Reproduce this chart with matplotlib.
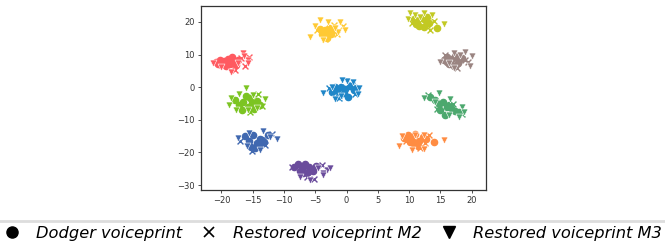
import matplotlib
matplotlib.use("Agg")
from matplotlib import pyplot as plt
from matplotlib.lines import Line2D

plt.rcParams["font.family"] = "DejaVu Sans"

# cluster colours
colors = ["#ff5a60", "#ffc933", "#c2c923", "#9a8481", "#1f86c8",
          "#7cc422", "#4ca86e", "#4068b0", "#ff8c42", "#6a4c9c"]

# Dodger voiceprint (circles), per cluster
dodger_x = [
    [-20.8, -20.2, -19.6, -19.0, -18.6, -18.0, -17.6, -19.3, -18.3, -20.5, -17.3],
    [-4.2, -3.6, -3.0, -2.5, -3.3, -2.8, -3.9, -2.3, -3.1, -3.5],
    [10.7, 11.3, 11.9, 12.6, 13.2, 11.6, 12.3, 12.9, 11.1, 14.4],
    [15.5, 16.1, 16.8, 17.4, 18.0, 16.4, 17.1, 17.8, 16.0, 18.5],
    [-2.3, -1.6, -0.9, -0.2, 0.5, 1.2, -1.2, -0.4, 0.3, -1.9, 1.5],
    [-17.8, -17.2, -16.5, -15.8, -15.1, -14.4, -13.8, -16.7, -15.4, -14.8, -16.1],
    [13.4, 14.1, 14.7, 15.4, 16.0, 16.7, 17.3, 18.0, 15.0, 15.8, 16.4],
    [-16.2, -15.6, -15.0, -14.4, -13.8, -13.2, -12.5, -14.7, -14.0, -15.3, -13.5],
    [9.2, 9.8, 10.4, 11.0, 11.6, 12.2, 12.7, 10.7, 11.4, 10.1, 13.9],
    [-8.4, -7.8, -7.2, -6.6, -6.0, -5.4, -4.9, -6.9, -6.2, -7.5],
]
dodger_y = [
    [7.6, 8.3, 7.9, 8.6, 7.2, 8.0, 6.9, 6.5, 9.1, 7.0, 8.2],
    [17.8, 16.9, 17.6, 16.4, 15.6, 18.0, 16.2, 17.1, 15.2, 17.4],
    [20.9, 20.2, 21.2, 20.5, 19.8, 18.9, 18.3, 21.4, 19.3, 18.1],
    [8.3, 9.2, 8.6, 9.6, 8.4, 7.2, 6.5, 7.4, 7.8, 8.9],
    [-1.6, -0.8, 0.2, -0.6, 0.4, -1.0, -2.6, -1.8, -3.1, 0.1, -0.4],
    [-4.0, -5.6, -4.6, -6.2, -5.0, -4.2, -5.4, -7.0, -3.4, -6.6, -2.8],
    [-3.0, -4.0, -5.2, -4.5, -6.0, -6.4, -7.2, -7.6, -7.0, -8.4, -5.6],
    [-15.0, -16.4, -14.6, -17.2, -15.8, -16.8, -14.8, -18.6, -17.9, -18.2, -16.2],
    [-15.6, -14.6, -15.8, -14.4, -16.6, -15.2, -16.0, -17.4, -18.0, -16.8, -16.7],
    [-24.4, -23.6, -25.0, -23.4, -24.6, -25.8, -24.2, -26.4, -26.0, -25.6],
]

# Restored voiceprint M2 (x marks), per cluster
m2_x = [
    [-16.2, -15.6, -16.8, -17.9, -19.9],
    [-1.5, -4.8, -2.0, -3.4, -0.6],
    [12.8, 14.0, 10.4, 13.3],
    [18.9, 19.4, 15.8, 17.6],
    [1.3, -2.8, 0.8, -1.2],
    [-13.5, -18.0, -15.5, -14.2],
    [17.0, 14.4, 18.4, 13.0],
    [-12.0, -17.0, -13.0, -15.2],
    [12.6, 9.5, 13.2, 11.8],
    [-3.9, -6.4, -5.2, -8.8],
]
m2_y = [
    [6.5, 9.2, 8.8, 5.4, 6.8],
    [16.2, 17.4, 19.2, 14.8, 18.6],
    [19.0, 20.3, 19.6, 17.6],
    [8.4, 7.6, 9.8, 6.0],
    [-2.0, -0.4, 0.8, -3.4],
    [-5.8, -4.0, -7.6, -2.0],
    [-5.2, -6.8, -8.2, -2.4],
    [-14.4, -16.6, -17.6, -19.6],
    [-17.0, -16.4, -14.8, -18.5],
    [-24.0, -27.6, -28.2, -24.4],
]

# Restored voiceprint M3 (triangles), per cluster
m3_x = [
    [-21.4, -20.0, -18.4, -17.3, -16.6, -15.8, -15.7, -16.4],
    [-5.8, -4.3, -3.0, -1.1, -0.3, -1.4, -1.9, -5.1, -3.8],
    [9.8, 10.1, 10.9, 12.3, 13.6, 15.5, 11.7],
    [14.9, 17.1, 19.0, 20.0, 19.7, 17.1, 16.3, 18.2],
    [-3.8, -2.4, 0.0, 2.0, 1.9, -1.9, -0.8, 1.1, -0.9],
    [-16.1, -18.5, -18.8, -17.2, -14.9, -13.1, -14.3, -17.6, -15.7],
    [12.3, 14.7, 16.5, 18.4, 18.8, 17.9, 16.3, 14.1],
    [-17.4, -15.6, -13.3, -11.1, -13.8, -15.9, -12.3],
    [8.3, 8.8, 12.3, 15.5, 10.4, 12.3, 10.9],
    [-4.5, -3.2, -2.7, -3.7, -5.9, -7.5, -3.7],
]
m3_y = [
    [7.5, 6.3, 4.8, 7.4, 10.5, 8.3, 7.5, 9.6],
    [15.5, 20.6, 20.1, 20.1, 17.5, 17.0, 18.1, 18.6, 14.5],
    [20.8, 22.7, 22.1, 22.7, 22.1, 19.4, 21.6],
    [7.8, 10.4, 10.9, 9.4, 6.5, 5.8, 7.3, 9.8],
    [-1.9, 0.0, 1.9, -0.3, -2.2, -3.7, 2.2, 1.7, -2.6],
    [-0.3, -3.2, -5.5, -2.1, -2.4, -3.7, -6.5, -7.0, -7.0],
    [-3.2, -1.7, -3.6, -6.0, -7.5, -9.0, -8.5, -4.4],
    [-15.7, -14.1, -13.4, -16.0, -19.3, -17.9, -15.2],
    [-18.0, -15.0, -14.7, -16.2, -19.3, -19.1, -14.7],
    [-24.9, -25.4, -24.9, -26.4, -28.5, -27.5, -26.9],
]

legend_labels = ["Dodger voiceprint", "Restored voiceprint M2", "Restored voiceprint M3"]

fig = plt.figure(figsize=(6.65, 2.47), dpi=100)
ax = fig.add_axes([0.302, 0.231, 0.429, 0.745])

for i, c in enumerate(colors):
    ax.scatter(dodger_x[i], dodger_y[i], s=20, marker="o", color=c)
    ax.scatter(m2_x[i], m2_y[i], s=18, marker="x", color=c, linewidths=1.0)
    ax.scatter(m3_x[i], m3_y[i], s=25, marker="v", color=c, edgecolors="white", linewidths=0.4)

ax.set_xlim(-23.3, 22.3)
ax.set_ylim(-31.5, 24.9)
ax.set_xticks([-20, -15, -10, -5, 0, 5, 10, 15, 20])
ax.set_yticks([-30, -20, -10, 0, 10, 20])
ax.tick_params(labelsize=6, length=2.5, width=0.6, pad=2, colors="#333333")
for sp in ax.spines.values():
    sp.set_linewidth(0.9)
    sp.set_color("#333333")

# separator line above the legend
fig.add_artist(Line2D([0, 1], [0.107, 0.107], transform=fig.transFigure, color="#dddddd", linewidth=2))

handles = [Line2D([], [], marker="o", color="black", linestyle="None", markersize=8),
           Line2D([], [], marker="x", color="black", linestyle="None", markersize=7, markeredgewidth=1.2),
           Line2D([], [], marker="v", color="black", linestyle="None", markersize=8)]
fig.legend(handles, legend_labels, loc="center left", bbox_to_anchor=(2.25 / 665, 0.055), ncol=3, frameon=False,
           prop={"style": "italic", "size": 11.7}, handletextpad=0.88, columnspacing=1.06, handlelength=1.2,
           borderpad=0, borderaxespad=0)

fig.savefig("out.png", dpi=100)
